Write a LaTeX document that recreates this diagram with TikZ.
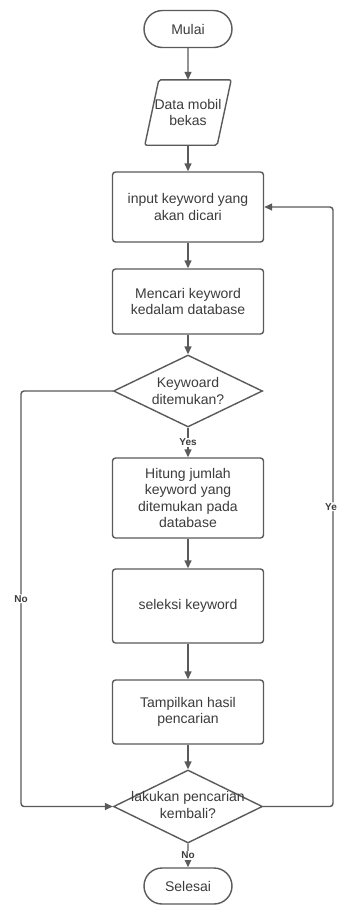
\documentclass[tikz,border=0pt]{standalone}
\usepackage{fontspec}
\setmainfont{Liberation Sans}
\usetikzlibrary{arrows.meta,shapes.geometric,shapes.misc}
\definecolor{ln}{HTML}{5A5A5A}
\definecolor{tx}{HTML}{3C3C3C}
\begin{document}
\begin{tikzpicture}[x=1pt,y=-1pt,
  every node/.style={text=tx,font=\fontsize{14}{16.5}\selectfont,align=center},
  term/.style={draw=ln,line width=1.4pt,rounded rectangle,minimum width=88pt,minimum height=37pt,inner sep=0pt},
  proc/.style={draw=ln,line width=1.4pt,rounded corners=3pt,minimum width=151pt,inner sep=0pt},
  dia/.style={draw=ln,line width=1.4pt,diamond,minimum width=149pt,minimum height=72pt,inner sep=0pt},
  lbl/.style={font=\fontsize{10}{12}\selectfont\bfseries,fill=white,inner sep=1pt},
  arr/.style={draw=ln,line width=1.4pt,rounded corners=3pt,-{Triangle[length=8pt,width=7pt]}},
]
\useasboundingbox[fill=white] (0,0) rectangle (337,906);

\node[term] (start) at (188,29) {Mulai};
\node[minimum width=86pt,minimum height=65pt,inner sep=0pt] (data) at (188,112.5) {Data mobil\\bekas};
\draw[ln,line width=1.4pt,rounded corners=2pt] ([xshift=14pt]data.north west) -- (data.north east) -- ([xshift=-14pt]data.south east) -- (data.south west) -- cycle;
\node[proc,minimum height=70pt] (b1) at (188,207) {input keyword yang\\akan dicari};
\node[proc,minimum height=65pt] (b2) at (188,301.5) {Mencari keyword\\kedalam database};
\node[dia] (d1) at (188,391) {};
\node (t1) at (d1) {Keywoard\\ditemukan?};
\node[proc,minimum height=80pt] (b3) at (188,498) {Hitung jumlah\\keyword yang\\ditemukan pada\\database};
\node[proc,minimum height=74pt] (b4) at (188,606) {seleksi keyword};
\node[proc,minimum height=64pt] (b5) at (188,712) {Tampilkan hasil\\pencarian};
\node[dia,minimum height=73pt] (d2) at (188,806.5) {};
\node (t2) at (188,805) {lakukan pencarian\\kembali?};
\node[term,minimum height=36pt] (end) at (188,886) {Selesai};

\coordinate (lc) at (21,0);
\coordinate (rc) at (333,0);

\draw[arr] (start) -- (data);
\draw[arr] (data) -- (b1);
\draw[arr] (b1) -- (b2);
\draw[arr] (b2) -- (d1);
\draw[arr] (d1) -- node[lbl]{Yes} (b3);
\draw[arr] (b3) -- (b4);
\draw[arr] (b4) -- (b5);
\draw[arr] (b5) -- (d2);
\draw[arr] (d2) -- node[lbl]{No} (end);
\draw[arr] (d1.west) -- (d1.west -| lc) -- node[lbl]{No} (d2.west -| lc) -- (d2.west);
\draw[arr] (d2.east) -- (d2.east -| rc) -- node[lbl,xshift=-2pt]{Ye} (b1.east -| rc) -- (b1.east);
\end{tikzpicture}
\end{document}
